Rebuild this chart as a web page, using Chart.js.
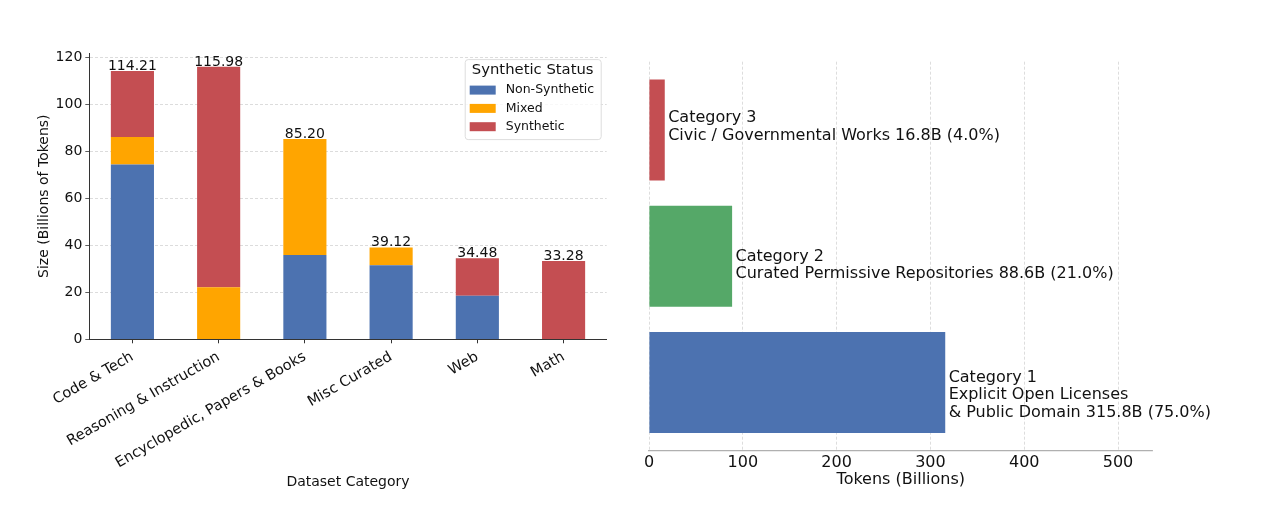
<!DOCTYPE html>
<html>
<head>
<meta charset="utf-8">
<script src="https://cdn.jsdelivr.net/npm/chart.js@4.4.1/dist/chart.umd.min.js"></script>
<style>
  body { margin: 0; background: #fff; }
  #left { position: absolute; left: 0; top: 0; width: 620px; height: 511px; }
  #right { position: absolute; left: 620px; top: 0; width: 647px; height: 511px; }
</style>
</head>
<body>
<div id="left"><canvas id="sizeChart"></canvas></div>
<div id="right"><canvas id="tokenChart"></canvas></div>
<script>
// left chart: dataset size by category and synthetic status (billions of tokens)
var categories = ['Code & Tech', 'Reasoning & Instruction', 'Encyclopedic, Papers & Books', 'Misc Curated', 'Web', 'Math'];
var nonSynthetic = [74.4, 0, 35.9, 31.5, 18.55, 0];
var mixed = [11.7, 22.2, 49.3, 7.62, 0, 0];
var synthetic = [28.11, 93.78, 0, 0, 15.93, 33.28];
var statusNames = ['Non-Synthetic', 'Mixed', 'Synthetic'];
var sizeTicks = [0, 20, 40, 60, 80, 100, 120];

// right chart: licence categories
var licenceNames = ['Category 1', 'Category 2', 'Category 3'];
var licenceDescs = ['Explicit Open Licenses\n& Public Domain', 'Curated Permissive Repositories', 'Civic / Governmental Works'];
var licenceTokens = [315.8, 88.6, 16.8];
var tokenTicks = [0, 100, 200, 300, 400, 500];

var BLUE = '#4c72b0', ORANGE = '#ffa500', RED = '#c44e52', GREEN = '#55a868';
var FONT = 'DejaVu Sans';
Chart.defaults.font.family = FONT;
Chart.defaults.color = '#222';
Chart.defaults.animation = false;

var totalsPlugin = {
  id: 'totals',
  afterDatasetsDraw: function(chart) {
    var ctx = chart.ctx;
    var y = chart.scales.y;
    var bars = chart.getDatasetMeta(0).data;
    ctx.save();
    ctx.font = '14px ' + FONT;
    ctx.fillStyle = '#111';
    ctx.textAlign = 'center';
    ctx.textBaseline = 'alphabetic';
    categories.forEach(function(c, i) {
      var total = nonSynthetic[i] + mixed[i] + synthetic[i];
      ctx.fillText(total.toFixed(2), bars[i].x, y.getPixelForValue(total) - 1);
    });
    ctx.restore();
  }
};

var legendPlugin = {
  id: 'boxLegend',
  afterDraw: function(chart) {
    var ctx = chart.ctx;
    var a = chart.chartArea;
    var w = 136, h = 80;
    var x0 = a.right - 6 - w, y0 = a.top + 6;
    ctx.save();
    ctx.fillStyle = 'rgba(255,255,255,0.8)';
    ctx.strokeStyle = '#dddddd';
    ctx.lineWidth = 1;
    ctx.beginPath();
    ctx.roundRect(x0 + 0.5, y0 + 0.5, w, h, 3);
    ctx.fill();
    ctx.stroke();
    ctx.fillStyle = '#111';
    ctx.font = '14.8px ' + FONT;
    ctx.textAlign = 'center';
    ctx.textBaseline = 'middle';
    ctx.fillText('Synthetic Status', x0 + w / 2, y0 + 11);
    ctx.font = '12.5px ' + FONT;
    ctx.textAlign = 'left';
    chart.data.datasets.forEach(function(ds, i) {
      var cy = y0 + 31 + i * 18.3;
      ctx.fillStyle = ds.backgroundColor;
      ctx.fillRect(x0 + 5, cy - 4.5, 26, 9);
      ctx.fillStyle = '#111';
      ctx.fillText(ds.label, x0 + 41, cy);
    });
    ctx.restore();
  }
};

new Chart(document.getElementById('sizeChart'), {
  type: 'bar',
  data: {
    labels: categories,
    datasets: [
      { label: statusNames[0], data: nonSynthetic, backgroundColor: BLUE },
      { label: statusNames[1], data: mixed, backgroundColor: ORANGE },
      { label: statusNames[2], data: synthetic, backgroundColor: RED }
    ]
  },
  options: {
    responsive: true,
    maintainAspectRatio: false,
    layout: { padding: { left: 0, right: 13.3, top: 53.1, bottom: 0 } },
    datasets: { bar: { barPercentage: 0.5, categoryPercentage: 1 } },
    plugins: { legend: { display: false }, tooltip: { enabled: false } },
    scales: {
      x: {
        stacked: true,
        offset: true,
        grid: { display: true, drawOnChartArea: false, drawTicks: true, tickLength: 4, tickColor: '#333', offset: false },
        border: { display: true, color: '#333', width: 1 },
        ticks: { autoSkip: false, minRotation: 30, maxRotation: 30, padding: 5, color: '#111', font: { size: 14.5 } },
        title: { display: true, text: 'Dataset Category', color: '#111', font: { size: 14 }, padding: { bottom: 20.6, top: 0 } },
        afterFit: function(s) { s.height = 171.7; }
      },
      y: {
        stacked: true,
        min: 0,
        max: 121.8,
        ticks: { padding: 3, color: '#111', font: { size: 14 } },
        afterBuildTicks: function(s) { s.ticks = sizeTicks.map(function(v) { return { value: v }; }); },
        grid: { color: '#d3d3d3', lineWidth: 0.8, drawTicks: true, tickLength: 4, tickColor: '#333' },
        border: { display: true, color: '#333', width: 1, dash: [3, 2] },
        title: { display: true, text: 'Size (Billions of Tokens)', color: '#111', font: { size: 14 }, padding: { top: 36, bottom: 0 } },
        afterFit: function(s) { s.width = 89.3; }
      }
    }
  },
  plugins: [totalsPlugin, legendPlugin]
});

var licenceTotal = licenceTokens.reduce(function(s, v) { return s + v; }, 0);
var annotePlugin = {
  id: 'annote',
  afterDatasetsDraw: function(chart) {
    var ctx = chart.ctx;
    var bars = chart.getDatasetMeta(0).data;
    var shift = [17, 13.4, 0.8];
    ctx.save();
    ctx.font = '16px ' + FONT;
    ctx.fillStyle = '#111';
    ctx.textAlign = 'left';
    ctx.textBaseline = 'alphabetic';
    licenceNames.forEach(function(name, i) {
      var v = licenceTokens[i];
      var share = (v / licenceTotal * 100).toFixed(1);
      var lines = (name + '\n' + licenceDescs[i] + ' ' + v.toFixed(1) + 'B (' + share + '%)').split('\n');
      var n = lines.length;
      lines.forEach(function(line, k) {
        ctx.fillText(line, bars[i].x + 3.4, bars[i].y + shift[i] + (k - (n - 1) / 2) * 17.6);
      });
    });
    ctx.restore();
  }
};

new Chart(document.getElementById('tokenChart'), {
  type: 'bar',
  data: {
    datasets: [{
      data: licenceTokens.map(function(v, i) { return { x: v, y: i }; }),
      backgroundColor: [BLUE, GREEN, RED]
    }]
  },
  options: {
    indexAxis: 'y',
    responsive: true,
    maintainAspectRatio: false,
    layout: { padding: { left: 29, right: 114.4, top: 61.7, bottom: 0 } },
    datasets: { bar: { barPercentage: 1, categoryPercentage: 0.8 } },
    plugins: { legend: { display: false }, tooltip: { enabled: false } },
    scales: {
      x: {
        type: 'linear',
        min: 0,
        max: 536.86,
        ticks: { padding: 3, color: '#111', font: { size: 16 } },
        afterBuildTicks: function(s) { s.ticks = tokenTicks.map(function(v) { return { value: v }; }); },
        grid: { color: '#d4d4d4', lineWidth: 0.8, drawTicks: false },
        border: { display: true, color: '#b0b0b0', width: 1.2, dash: [3, 2] },
        title: { display: true, text: 'Tokens (Billions)', color: '#111', font: { size: 16 }, padding: { bottom: 21.4, top: 0 } },
        afterFit: function(s) { s.height = 60.3; }
      },
      y: {
        type: 'linear',
        offset: false,
        min: -0.54,
        max: 2.54,
        display: false,
        afterBuildTicks: function(s) { s.ticks = licenceNames.map(function(n, i) { return { value: i }; }); }
      }
    }
  },
  plugins: [annotePlugin]
});
</script>
</body>
</html>
